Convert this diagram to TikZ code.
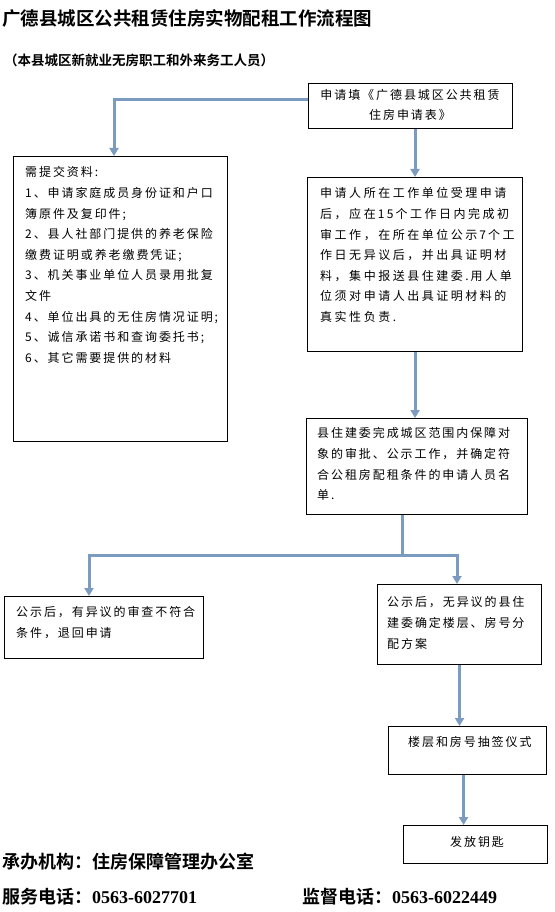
\documentclass[tikz,border=0pt]{standalone}
\usepackage{fontspec}
\usetikzlibrary{arrows.meta}
\newfontfamily\cjk{Noto Sans CJK SC}[BoldFont={Noto Sans CJK SC Bold}]
\newfontfamily\cjkbox{Noto Sans CJK SC}[LetterSpace=16]
\newfontfamily\cjkwide{Noto Sans CJK SC}[LetterSpace=21]
\newfontfamily\digits{Liberation Serif}
\definecolor{flow}{HTML}{7B9CC0}
\tikzset{
  bx/.style={draw=black, line width=1.1pt, anchor=north west, inner sep=0pt},
  tx/.style={anchor=north west, inner sep=0pt, align=left,
             font=\cjkbox\fontsize{12}{20.6}\selectfont},
  fl/.style={-{Triangle[length=8pt, width=9pt]}, flow, line width=3pt},
  ln/.style={flow, line width=3pt},
  hd/.style={anchor=west, inner sep=0pt, font=\cjk\bfseries\fontsize{18.5}{22}\selectfont},
}

\begin{document}
\begin{tikzpicture}[x=1pt, y=-1pt]
    \useasboundingbox[fill=white] (0,0) rectangle (554,912);
    % title lines
    \node[hd] (title) at (2,18) {广德县城区公共租赁住房实物配租工作流程图};
    \node[hd, font=\cjk\bfseries\fontsize{13.5}{16}\selectfont] (sub) at (4,60)
      {（本县城区新就业无房职工和外来务工人员）};
    % boxes
    \node[bx, minimum width=204, minimum height=45] (b1) at (308,83) {};
    \node[bx, minimum width=214, minimum height=285] (b2) at (13,156) {};
    \node[bx, minimum width=215, minimum height=174] (b3) at (307,177) {};
    \node[bx, minimum width=221, minimum height=96] (b4) at (306,418) {};
    \node[bx, minimum width=199, minimum height=62] (b5) at (4,596) {};
    \node[bx, minimum width=164, minimum height=80] (b6) at (377,584) {};
    \node[bx, minimum width=158, minimum height=48] (b7) at (388,726) {};
    \node[bx, minimum width=144, minimum height=38] (b8) at (403,825) {};
    % box texts
    \node[tx, anchor=north, align=center, font=\cjkbox\fontsize{12}{19.5}\selectfont] (t1) at (410,89.5)
      {申请填《广德县城区公共租赁\\住房申请表》};
    \node[tx] (t2) at (25,166.5)
      {需提交资料:\\1、申请家庭成员身份证和户口\\簿原件及复印件;\\2、县人社部门提供的养老保险\\
       缴费证明或养老缴费凭证;\\3、机关事业单位人员录用批复\\文件\\4、单位出具的无住房情况证明;\\
       5、诚信承诺书和查询委托书;\\6、其它需要提供的材料};
    \node[tx, font=\cjkwide\fontsize{12}{20.6}\selectfont] (t3) at (320,187.5)
      {申请人所在工作单位受理申请\\后，应在\,15\,个工作日内完成初\\审工作，在所在单位公示\,7\,个工\\
       作日无异议后，并出具证明材\\料，集中报送县住建委.\,用人单\\位须对申请人出具证明材料的\\真实性负责.};
    \node[tx] (t4) at (317,427.5)
      {县住建委完成城区范围内保障对\\象的审批、公示工作，并确定符\\合公租房配租条件的申请人员名\\单.};
    \node[tx] (t5) at (16,606.5)
      {公示后，有异议的审查不符合\\条件，退回申请};
    \node[tx] (t6) at (387,596.5)
      {公示后，无异议的县住\\建委确定楼层、房号分\\配方案};
    \node[tx] (t7) at (408,736.5) {楼层和房号抽签仪式};
    \node[tx] (t8) at (450,836.5) {发放钥匙};
    % footer
    \node[hd, font=\cjk\bfseries\fontsize{18}{22}\selectfont] (org) at (2,862)
      {承办机构：住房保障管理办公室};
    \node[hd, font=\cjk\bfseries\fontsize{18}{22}\selectfont] (tel) at (2,897)
      {服务电话：{\digits\bfseries 0563-6027701}};
    \node[hd, font=\cjk\bfseries\fontsize{18}{22}\selectfont] (sup) at (302,897)
      {监督电话：{\digits\bfseries 0563-6022449}};
    % connectors
    \coordinate (k1) at (114,100);
    \coordinate (sp) at (402,555);
    \coordinate (kl) at (89,555);
    \coordinate (kr) at (457,555);
    \draw[fl] (b1.west |- k1) -| (b2.north -| k1);
    \draw[fl] (b3.north |- b1.south) -- (b3.north);
    \draw[fl] (b3.south) -- (b3.south |- b4.north);
    \draw[ln] (b4.south -| sp) -- (sp);
    \draw[fl] (sp) -| (kl |- b5.north);
    \draw[fl] (sp) -| (kr |- b6.north);
    \draw[fl] (b6.south) -- (b6.south |- b7.north);
    \draw[fl] ([xshift=-4pt]b7.south) -- ([xshift=-4pt]b7.south |- b8.north);
\end{tikzpicture}
\end{document}
